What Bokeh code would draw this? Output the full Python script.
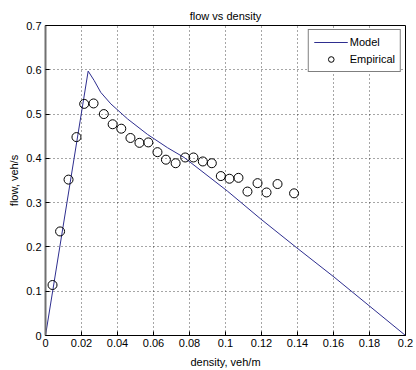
from bokeh.plotting import figure
from bokeh.models import FixedTicker, Legend, LegendItem, Range1d
from bokeh.embed import file_html
from bokeh.resources import INLINE

# Model curve
model_density = [0, 0.0237, 0.027, 0.0307, 0.0363, 0.0456, 0.0567, 0.0678, 0.077,
                 0.1011, 0.1196, 0.1396, 0.1603, 0.2]
model_flow = [0, 0.597, 0.576, 0.549, 0.523, 0.489, 0.454, 0.424, 0.402,
              0.326, 0.263, 0.198, 0.132, 0]

# Empirical points
emp_density = [0.0039, 0.0081, 0.0128, 0.0172, 0.0215, 0.0267, 0.0324, 0.0373,
               0.0421, 0.0472, 0.0522, 0.0571, 0.0622, 0.0669, 0.0723, 0.0776,
               0.0822, 0.0874, 0.0924, 0.0974, 0.1022, 0.1072, 0.1122, 0.1178,
               0.1228, 0.1289, 0.1381]
emp_flow = [0.114, 0.235, 0.352, 0.448, 0.523, 0.524, 0.500, 0.477,
            0.467, 0.446, 0.435, 0.436, 0.414, 0.397, 0.389, 0.402,
            0.402, 0.393, 0.389, 0.360, 0.354, 0.356, 0.325, 0.344,
            0.323, 0.342, 0.321]

x_ticks = [0, 0.02, 0.04, 0.06, 0.08, 0.1, 0.12, 0.14, 0.16, 0.18, 0.2]
x_tick_labels = ["0", "0.02", "0.04", "0.06", "0.08", "0.1", "0.12", "0.14", "0.16", "0.18", "0.2"]
y_ticks = [0, 0.1, 0.2, 0.3, 0.4, 0.5, 0.6, 0.7]
y_tick_labels = ["0", "0.1", "0.2", "0.3", "0.4", "0.5", "0.6", "0.7"]

FONT = "Liberation Sans"

p = figure(width=416, height=370, output_backend="svg", toolbar_location=None,
           x_range=Range1d(0, 0.2), y_range=Range1d(0, 0.7),
           min_border_left=45, min_border_right=11, min_border_top=25, min_border_bottom=35,
           title="flow vs density")
p.title.align = "center"
p.title.text_font = FONT
p.title.text_font_size = "11px"
p.title.text_font_style = "normal"
p.title.text_color = "black"
p.title.standoff = 8

p.background_fill_color = "white"
p.border_fill_color = "white"
p.outline_line_color = "black"
p.outline_line_width = 1

for ax, ticks, labels in ((p.xaxis[0], x_ticks, x_tick_labels), (p.yaxis[0], y_ticks, y_tick_labels)):
    ax.ticker = FixedTicker(ticks=ticks)
    ax.major_label_overrides = {t: l for t, l in zip(ticks, labels)}
    ax.major_label_text_font = FONT
    ax.major_label_text_font_size = "11px"
    ax.major_label_text_color = "black"
    ax.axis_label_text_font = FONT
    ax.axis_label_text_font_size = "11px"
    ax.axis_label_text_font_style = "normal"
    ax.axis_label_text_color = "black"
    ax.major_tick_in = 4
    ax.major_tick_out = 0
    ax.minor_tick_in = 0
    ax.minor_tick_out = 0
    ax.axis_line_color = "black"
    ax.major_tick_line_color = "black"

p.xaxis[0].axis_label = "density, veh/m"
p.yaxis[0].axis_label = "flow, veh/s"
p.xaxis[0].major_label_standoff = 3
p.xaxis[0].axis_label_standoff = 6
p.yaxis[0].major_label_standoff = 4
p.yaxis[0].axis_label_standoff = 3
p.yaxis[0].axis_line_color = "#707070"
p.yaxis[0].axis_line_width = 2

p.xgrid.ticker = FixedTicker(ticks=x_ticks)
p.ygrid.ticker = FixedTicker(ticks=y_ticks)
for g in (p.xgrid[0], p.ygrid[0]):
    g.grid_line_color = "black"
    g.grid_line_dash = "1 3"
    g.grid_line_alpha = 0.7
    g.grid_line_width = 1

r_model = p.line(model_density, model_flow, line_color="#2e2e8f", line_width=1)
r_emp = p.scatter(emp_density, emp_flow, marker="circle", size=9, fill_color=None,
                  line_color="black", line_width=1)

legend = Legend(items=[LegendItem(label="Model", renderers=[r_model]),
                       LegendItem(label="Empirical", renderers=[r_emp])],
                location="top_right", margin=4)
legend.label_text_font = FONT
legend.label_text_font_size = "11px"
legend.label_text_color = "black"
legend.border_line_color = "black"
legend.border_line_width = 1
legend.background_fill_alpha = 1
legend.glyph_width = 34
legend.glyph_height = 14
legend.label_height = 14
legend.label_standoff = 2
legend.padding = 5
legend.spacing = 3
p.add_layout(legend)

open("out.html", "w").write(file_html(p, INLINE))
